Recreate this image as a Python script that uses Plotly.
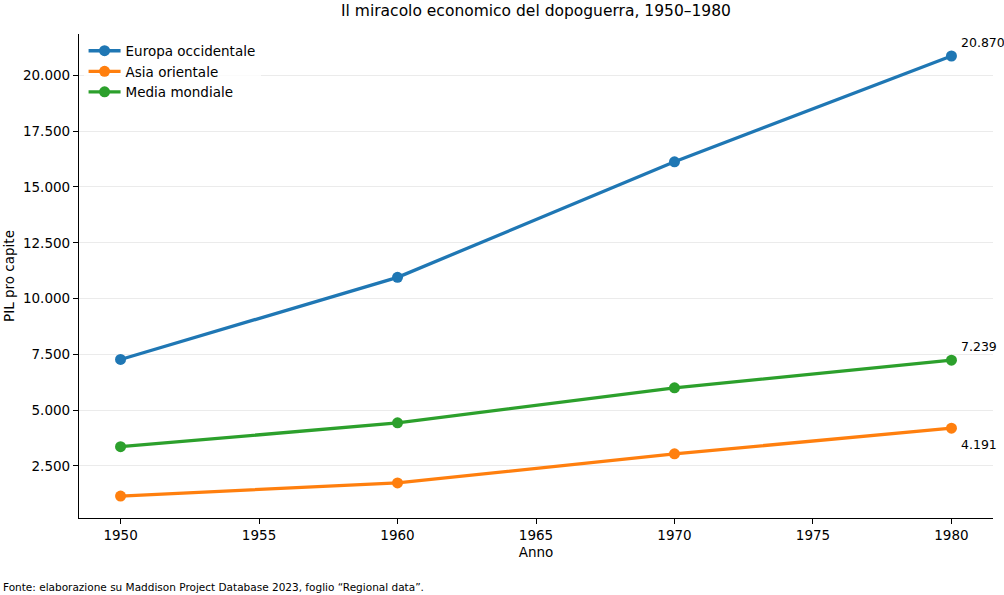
import plotly.graph_objects as go

# data
anni = [1950, 1960, 1970, 1980]
europa_occidentale = [7270, 10950, 16130, 20870]
asia_orientale = [1150, 1740, 3040, 4191]
media_mondiale = [3360, 4430, 6000, 7239]

serie = [
    ("Europa occidentale", europa_occidentale, "#1f77b4"),
    ("Asia orientale", asia_orientale, "#ff7f0e"),
    ("Media mondiale", media_mondiale, "#2ca02c"),
]


def fmt_it(v):
    return f"{v:,.0f}".replace(",", ".")


def main():
    fig = go.Figure()

    for nome, valori, colore in serie:
        fig.add_trace(go.Scatter(
            x=anni, y=valori, mode="lines+markers", name=nome,
            line=dict(color=colore, width=3.3),
            marker=dict(color=colore, size=11),
        ))

    # value labels at the last point
    offsets = {"Europa occidentale": -14, "Asia orientale": 16, "Media mondiale": -14}
    for nome, valori, colore in serie:
        fig.add_annotation(
            x=anni[-1], y=valori[-1], text=fmt_it(valori[-1]),
            showarrow=False, xanchor="left", yanchor="middle",
            xshift=8, yshift=-offsets[nome],
            font=dict(size=12.5, color="black"),
        )

    # source note
    fig.add_annotation(
        x=0, y=0, xref="paper", yref="paper", xanchor="left", yanchor="middle",
        xshift=-78, yshift=-69,
        text="Fonte: elaborazione su Maddison Project Database 2023, foglio “Regional data”.",
        showarrow=False, font=dict(size=10.5, color="black"),
    )

    fig.update_layout(
        width=1004, height=595,
        paper_bgcolor="white", plot_bgcolor="white",
        font=dict(family="DejaVu Sans", size=13, color="black"),
        separators=",.",
        margin=dict(l=79, r=11, t=34, b=77, autoexpand=False),
        title=dict(text="Il miracolo economico del dopoguerra, 1950–1980",
                   x=(79 + 993) / 2 / 1004, xanchor="center",
                   y=1 - 11 / 595, yanchor="middle",
                   font=dict(size=15.5)),
        xaxis=dict(
            title=dict(text="Anno", font=dict(size=13.5), standoff=5),
            range=[1948.5, 1981.5], tickvals=[1950, 1955, 1960, 1965, 1970, 1975, 1980],
            showgrid=False, zeroline=False, automargin=False,
            showline=True, linecolor="black", linewidth=1.2,
            ticks="outside", ticklen=5, tickcolor="black",
            tickfont=dict(size=13.5),
        ),
        yaxis=dict(
            title=dict(text="PIL pro capite", font=dict(size=13.5), standoff=5),
            range=[166, 21856], tickvals=[2500, 5000, 7500, 10000, 12500, 15000, 17500, 20000],
            tickformat=",.0f",
            showgrid=True, gridcolor="#ebebeb", gridwidth=1, zeroline=False, automargin=False,
            showline=True, linecolor="black", linewidth=1.2,
            ticks="outside", ticklen=5, tickcolor="black",
            tickfont=dict(size=13.5),
        ),
        legend=dict(
            x=0.005, y=0.997, xanchor="left", yanchor="top",
            bgcolor="rgba(255,255,255,0.8)", font=dict(size=13.5),
            itemwidth=32, tracegroupgap=0,
        ),
        showlegend=True,
    )

    fig.write_html("out.html", config={"displayModeBar": False},
                   post_script="document.body.style.margin='0';")


if __name__ == "__main__": main()
